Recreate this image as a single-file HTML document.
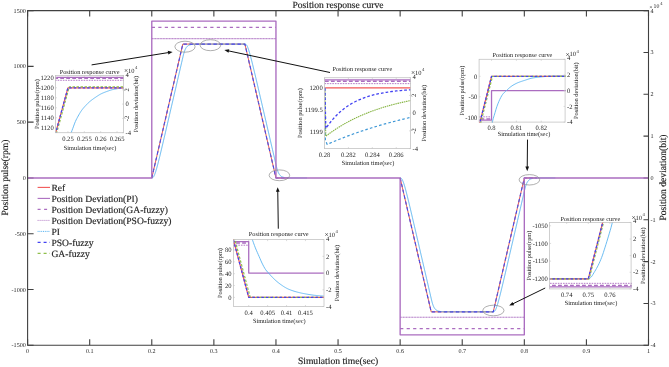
<!DOCTYPE html><html><head><meta charset="utf-8"><style>html,body{margin:0;padding:0;background:#fff}svg{display:block;will-change:transform;text-rendering:geometricPrecision}.b text{stroke:#222;stroke-width:0.15px}</style></head><body>
<svg width="669" height="367" viewBox="0 0 669 367">
<rect width="669" height="367" fill="#fff"/>
<path d="M27.6 345.3 v-6 M27.6 10.6 v6 M89.69 345.3 v-6 M89.69 10.6 v6 M151.78 345.3 v-6 M151.78 10.6 v6 M213.87 345.3 v-6 M213.87 10.6 v6 M275.96 345.3 v-6 M275.96 10.6 v6 M338.05 345.3 v-6 M338.05 10.6 v6 M400.14 345.3 v-6 M400.14 10.6 v6 M462.23 345.3 v-6 M462.23 10.6 v6 M524.32 345.3 v-6 M524.32 10.6 v6 M586.41 345.3 v-6 M586.41 10.6 v6 M648.5 345.3 v-6 M648.5 10.6 v6 M27.6 345.3 h6 M27.6 289.52 h6 M27.6 233.73 h6 M27.6 177.95 h6 M27.6 122.17 h6 M27.6 66.38 h6 M27.6 10.6 h6 M648.5 345.3 h-5 M648.5 303.46 h-5 M648.5 261.62 h-5 M648.5 219.79 h-5 M648.5 177.95 h-5 M648.5 136.11 h-5 M648.5 94.28 h-5 M648.5 52.44 h-5 M648.5 10.6 h-5" stroke="#404040" stroke-width="1.1" fill="none"/>
<path d="M151.78 177.95 L182.82 44.07 L244.91 44.07 L275.96 177.95 L288.38 177.95" fill="none" stroke="#f25757" stroke-width="1.0" stroke-linejoin="round" />
<path d="M400.14 177.95 L431.19 311.83 L493.27 311.83 L524.32 177.95 L536.74 177.95" fill="none" stroke="#f25757" stroke-width="1.0" stroke-linejoin="round" />
<path d="M151.78 177.95 L151.95 177.95 L152.13 177.93 L152.3 177.9 L152.47 177.85 L152.64 177.76 L152.82 177.64 L152.99 177.49 L153.16 177.31 L153.33 177.1 L153.51 176.86 L153.68 176.58 L153.85 176.28 L154.02 175.95 L154.2 175.59 L154.37 175.21 L154.54 174.8 L154.72 174.37 L154.89 173.92 L155.06 173.45 L155.23 172.96 L155.41 172.46 L155.58 171.94 L155.75 171.4 L155.92 170.85 L156.1 170.28 L156.27 169.71 L156.44 169.12 L156.61 168.52 L156.79 167.91 L156.96 167.29 L157.13 166.67 L157.31 166.03 L157.48 165.39 L157.65 164.74 L157.82 164.08 L158 163.42 L158.17 162.75 L158.34 162.08 L158.51 161.4 L158.69 160.72 L158.86 160.03 L159.03 159.34 L159.2 158.65 L159.38 157.95 L159.55 157.25 L159.72 156.54 L159.9 155.83 L160.07 155.13 L160.24 154.41 L160.41 153.7 L160.59 152.98 L160.76 152.26 L160.93 151.54 L161.1 150.82 L161.28 150.1 L161.45 149.37 L161.62 148.65 L161.79 147.92 L161.97 147.19 L162.14 146.46 L162.31 145.73 L162.49 145 L162.66 144.27 L162.83 143.53 L163 142.8 L163.18 142.06 L163.35 141.33 L163.52 140.59 L163.69 139.86 L163.87 139.12 L164.04 138.38 L164.21 137.64 L164.38 136.9 L164.56 136.16 L164.73 135.42 L164.9 134.68 L165.08 133.94 L165.25 133.2 L165.42 132.46 L165.59 131.72 L165.77 130.98 L165.94 130.24 L166.11 129.5 L166.28 128.76 L166.46 128.01 L166.63 127.27 L166.8 126.53 L166.97 125.79 L167.15 125.04 L167.32 124.3 L167.49 123.56 L167.67 122.81 L167.84 122.07 L168.01 121.33 L168.18 120.58 L168.36 119.84 L168.53 119.1 L168.7 118.35 L168.87 117.61 L169.05 116.87 L169.22 116.12 L169.39 115.38 L169.56 114.63 L169.74 113.89 L169.91 113.15 L170.08 112.4 L170.26 111.66 L170.43 110.91 L170.6 110.17 L170.77 109.43 L170.95 108.68 L171.12 107.94 L171.29 107.19 L171.46 106.45 L171.64 105.7 L171.81 104.96 L171.98 104.22 L172.15 103.47 L172.33 102.73 L172.5 101.98 L172.67 101.24 L172.85 100.49 L173.02 99.75 L173.19 99 L173.36 98.26 L173.54 97.52 L173.71 96.77 L173.88 96.03 L174.05 95.28 L174.23 94.54 L174.4 93.79 L174.57 93.05 L174.74 92.3 L174.92 91.56 L175.09 90.82 L175.26 90.07 L175.43 89.33 L175.61 88.58 L175.78 87.84 L175.95 87.09 L176.13 86.35 L176.3 85.6 L176.47 84.86 L176.64 84.11 L176.82 83.37 L176.99 82.63 L177.16 81.88 L177.33 81.14 L177.51 80.39 L177.68 79.65 L177.85 78.9 L178.02 78.16 L178.2 77.41 L178.37 76.67 L178.54 75.92 L178.72 75.18 L178.89 74.43 L179.06 73.69 L179.23 72.95 L179.41 72.2 L179.58 71.46 L179.75 70.71 L179.92 69.97 L180.1 69.22 L180.27 68.48 L180.44 67.73 L180.61 66.99 L180.79 66.24 L180.96 65.5 L181.13 64.76 L181.31 64.01 L181.48 63.27 L181.65 62.52 L181.82 61.78 L182 61.03 L182.17 60.29 L182.34 59.54 L182.51 58.8 L182.69 58.05 L182.86 57.31 L183.03 56.57 L183.2 55.84 L183.38 55.13 L183.55 54.45 L183.72 53.8 L183.9 53.18 L184.07 52.59 L184.24 52.03 L184.41 51.5 L184.59 51.01 L184.76 50.54 L184.93 50.11 L185.1 49.7 L185.28 49.32 L185.45 48.96 L185.62 48.63 L185.79 48.32 L185.97 48.03 L186.14 47.75 L186.31 47.5 L186.49 47.27 L186.66 47.05 L186.83 46.84 L187 46.65 L187.18 46.47 L187.35 46.31 L187.52 46.15 L187.69 46.01 L187.87 45.88 L188.04 45.75 L188.21 45.64 L188.38 45.53 L188.56 45.43 L188.73 45.33 L188.9 45.25 L189.08 45.17 L189.25 45.09 L189.42 45.02 L189.59 44.95 L189.77 44.89 L189.94 44.84 L190.11 44.78 L190.28 44.73 L190.46 44.69 L190.63 44.65 L190.8 44.61 L190.97 44.57 L191.15 44.53 L191.32 44.5 L191.49 44.47 L191.67 44.45 L191.84 44.42 L192.01 44.4 L192.18 44.37 L192.36 44.35 L192.53 44.33 L192.7 44.31 L192.87 44.3 L193.05 44.28 L193.22 44.27 L193.39 44.25 L193.56 44.24 L193.74 44.23 L193.91 44.22 L194.08 44.21 L194.26 44.2 L194.43 44.19 L194.6 44.18 L194.77 44.17 L194.95 44.17 L195.12 44.16 L195.29 44.15 L195.46 44.15 L195.64 44.14 L195.81 44.14 L195.98 44.13 L196.15 44.13 L196.33 44.12 L196.5 44.12 L196.67 44.12 L196.85 44.11 L197.02 44.11 L197.19 44.11 L197.36 44.11 L197.54 44.1 L197.71 44.1 L197.88 44.1 L198.05 44.1 L198.23 44.09 L198.4 44.09 L198.57 44.09 L198.74 44.09 L198.92 44.09 L199.09 44.09 L199.26 44.09 L199.44 44.09 L199.61 44.08 L199.78 44.08 L199.95 44.08 L200.13 44.08 L200.3 44.08 L200.47 44.08 L200.64 44.08 L200.82 44.08 L200.99 44.08 L201.16 44.08 L201.33 44.08 L201.51 44.08 L201.68 44.08 L201.85 44.08 L202.03 44.08 L202.2 44.07 L202.37 44.07 L202.54 44.07 L202.72 44.07 L202.89 44.07 L203.06 44.07 L203.23 44.07 L203.41 44.07 L203.58 44.07 L203.75 44.07 L203.92 44.07 L204.1 44.07 L204.27 44.07 L204.44 44.07 L204.62 44.07 L204.79 44.07 L204.96 44.07 L205.13 44.07 L205.31 44.07 L205.48 44.07 L205.65 44.07 L205.82 44.07 L206 44.07 L206.17 44.07 L206.34 44.07 L206.51 44.07 L206.69 44.07 L206.86 44.07 L207.03 44.07 L207.21 44.07 L207.38 44.07 L207.55 44.07 L207.72 44.07 L207.9 44.07 L208.07 44.07 L208.24 44.07 L208.41 44.07 L208.59 44.07 L208.76 44.07 L208.93 44.07 L209.1 44.07 L209.28 44.07 L209.45 44.07 L209.62 44.07 L209.8 44.07 L209.97 44.07 L210.14 44.07 L210.31 44.07 L210.49 44.07 L210.66 44.07 L210.83 44.07 L211 44.07 L211.18 44.07 L211.35 44.07 L211.52 44.07 L211.69 44.07 L211.87 44.07 L212.04 44.07 L212.21 44.07 L212.39 44.07 L212.56 44.07 L212.73 44.07 L212.9 44.07 L213.08 44.07 L213.25 44.07 L213.42 44.07 L213.59 44.07 L213.77 44.07 L213.94 44.07 L214.11 44.07 L214.28 44.07 L214.46 44.07 L214.63 44.07 L214.8 44.07 L214.98 44.07 L215.15 44.07 L215.32 44.07 L215.49 44.07 L215.67 44.07 L215.84 44.07 L216.01 44.07 L216.18 44.07 L216.36 44.07 L216.53 44.07 L216.7 44.07 L216.87 44.07 L217.05 44.07 L217.22 44.07 L217.39 44.07 L217.57 44.07 L217.74 44.07 L217.91 44.07 L218.08 44.07 L218.26 44.07 L218.43 44.07 L218.6 44.07 L218.77 44.07 L218.95 44.07 L219.12 44.07 L219.29 44.07 L219.46 44.07 L219.64 44.07 L219.81 44.07 L219.98 44.07 L220.15 44.07 L220.33 44.07 L220.5 44.07 L220.67 44.07 L220.85 44.07 L221.02 44.07 L221.19 44.07 L221.36 44.07 L221.54 44.07 L221.71 44.07 L221.88 44.07 L222.05 44.07 L222.23 44.07 L222.4 44.07 L222.57 44.07 L222.74 44.07 L222.92 44.07 L223.09 44.07 L223.26 44.07 L223.44 44.07 L223.61 44.07 L223.78 44.07 L223.95 44.07 L224.13 44.07 L224.3 44.07 L224.47 44.07 L224.64 44.07 L224.82 44.07 L224.99 44.07 L225.16 44.07 L225.33 44.07 L225.51 44.07 L225.68 44.07 L225.85 44.07 L226.03 44.07 L226.2 44.07 L226.37 44.07 L226.54 44.07 L226.72 44.07 L226.89 44.07 L227.06 44.07 L227.23 44.07 L227.41 44.07 L227.58 44.07 L227.75 44.07 L227.92 44.07 L228.1 44.07 L228.27 44.07 L228.44 44.07 L228.62 44.07 L228.79 44.07 L228.96 44.07 L229.13 44.07 L229.31 44.07 L229.48 44.07 L229.65 44.07 L229.82 44.07 L230 44.07 L230.17 44.07 L230.34 44.07 L230.51 44.07 L230.69 44.07 L230.86 44.07 L231.03 44.07 L231.21 44.07 L231.38 44.07 L231.55 44.07 L231.72 44.07 L231.9 44.07 L232.07 44.07 L232.24 44.07 L232.41 44.07 L232.59 44.07 L232.76 44.07 L232.93 44.07 L233.1 44.07 L233.28 44.07 L233.45 44.07 L233.62 44.07 L233.8 44.07 L233.97 44.07 L234.14 44.07 L234.31 44.07 L234.49 44.07 L234.66 44.07 L234.83 44.07 L235 44.07 L235.18 44.07 L235.35 44.07 L235.52 44.07 L235.69 44.07 L235.87 44.07 L236.04 44.07 L236.21 44.07 L236.39 44.07 L236.56 44.07 L236.73 44.07 L236.9 44.07 L237.08 44.07 L237.25 44.07 L237.42 44.07 L237.59 44.07 L237.77 44.07 L237.94 44.07 L238.11 44.07 L238.28 44.07 L238.46 44.07 L238.63 44.07 L238.8 44.07 L238.98 44.07 L239.15 44.07 L239.32 44.07 L239.49 44.07 L239.67 44.07 L239.84 44.07 L240.01 44.07 L240.18 44.07 L240.36 44.07 L240.53 44.07 L240.7 44.07 L240.87 44.07 L241.05 44.07 L241.22 44.07 L241.39 44.07 L241.57 44.07 L241.74 44.07 L241.91 44.07 L242.08 44.07 L242.26 44.07 L242.43 44.07 L242.6 44.07 L242.77 44.07 L242.95 44.07 L243.12 44.07 L243.29 44.07 L243.46 44.07 L243.64 44.07 L243.81 44.07 L243.98 44.07 L244.16 44.07 L244.33 44.07 L244.5 44.07 L244.67 44.07 L244.85 44.07 L245.02 44.07 L245.19 44.08 L245.36 44.1 L245.54 44.15 L245.71 44.22 L245.88 44.33 L246.05 44.46 L246.23 44.63 L246.4 44.83 L246.57 45.06 L246.75 45.32 L246.92 45.61 L247.09 45.94 L247.26 46.28 L247.44 46.66 L247.61 47.05 L247.78 47.47 L247.95 47.91 L248.13 48.38 L248.3 48.86 L248.47 49.36 L248.64 49.87 L248.82 50.4 L248.99 50.95 L249.16 51.51 L249.34 52.08 L249.51 52.66 L249.68 53.26 L249.85 53.86 L250.03 54.48 L250.2 55.1 L250.37 55.73 L250.54 56.37 L250.72 57.02 L250.89 57.67 L251.06 58.33 L251.23 59 L251.41 59.67 L251.58 60.35 L251.75 61.03 L251.93 61.71 L252.1 62.4 L252.27 63.1 L252.44 63.79 L252.62 64.49 L252.79 65.2 L252.96 65.9 L253.13 66.61 L253.31 67.32 L253.48 68.04 L253.65 68.75 L253.82 69.47 L254 70.19 L254.17 70.91 L254.34 71.63 L254.52 72.36 L254.69 73.08 L254.86 73.81 L255.03 74.54 L255.21 75.27 L255.38 76 L255.55 76.73 L255.72 77.46 L255.9 78.19 L256.07 78.93 L256.24 79.66 L256.41 80.4 L256.59 81.13 L256.76 81.87 L256.93 82.61 L257.11 83.34 L257.28 84.08 L257.45 84.82 L257.62 85.56 L257.8 86.3 L257.97 87.04 L258.14 87.78 L258.31 88.52 L258.49 89.26 L258.66 90 L258.83 90.74 L259 91.48 L259.18 92.23 L259.35 92.97 L259.52 93.71 L259.7 94.45 L259.87 95.19 L260.04 95.94 L260.21 96.68 L260.39 97.42 L260.56 98.17 L260.73 98.91 L260.9 99.65 L261.08 100.4 L261.25 101.14 L261.42 101.88 L261.59 102.63 L261.77 103.37 L261.94 104.11 L262.11 104.86 L262.29 105.6 L262.46 106.34 L262.63 107.09 L262.8 107.83 L262.98 108.58 L263.15 109.32 L263.32 110.06 L263.49 110.81 L263.67 111.55 L263.84 112.3 L264.01 113.04 L264.18 113.78 L264.36 114.53 L264.53 115.27 L264.7 116.02 L264.87 116.76 L265.05 117.51 L265.22 118.25 L265.39 119 L265.57 119.74 L265.74 120.48 L265.91 121.23 L266.08 121.97 L266.26 122.72 L266.43 123.46 L266.6 124.21 L266.77 124.95 L266.95 125.7 L267.12 126.44 L267.29 127.18 L267.46 127.93 L267.64 128.67 L267.81 129.42 L267.98 130.16 L268.16 130.91 L268.33 131.65 L268.5 132.4 L268.67 133.14 L268.85 133.88 L269.02 134.63 L269.19 135.37 L269.36 136.12 L269.54 136.86 L269.71 137.61 L269.88 138.35 L270.05 139.1 L270.23 139.84 L270.4 140.59 L270.57 141.33 L270.75 142.08 L270.92 142.82 L271.09 143.56 L271.26 144.31 L271.44 145.05 L271.61 145.8 L271.78 146.54 L271.95 147.29 L272.13 148.03 L272.3 148.78 L272.47 149.52 L272.64 150.27 L272.82 151.01 L272.99 151.75 L273.16 152.5 L273.34 153.24 L273.51 153.99 L273.68 154.73 L273.85 155.48 L274.03 156.22 L274.2 156.97 L274.37 157.71 L274.54 158.46 L274.72 159.2 L274.89 159.95 L275.06 160.69 L275.23 161.43 L275.41 162.18 L275.58 162.92 L275.75 163.67 L275.93 164.41 L276.1 165.16 L276.27 165.89 L276.44 166.61 L276.62 167.3 L276.79 167.97 L276.96 168.6 L277.13 169.2 L277.31 169.77 L277.48 170.31 L277.65 170.82 L277.82 171.29 L278 171.74 L278.17 172.16 L278.34 172.55 L278.52 172.92 L278.69 173.26 L278.86 173.58 L279.03 173.88 L279.21 174.16 L279.38 174.42 L279.55 174.66 L279.72 174.89 L279.9 175.1 L280.07 175.29 L280.24 175.48 L280.41 175.65 L280.59 175.81 L280.76 175.95 L280.93 176.09 L281.11 176.22 L281.28 176.34 L281.45 176.45 L281.62 176.55 L281.8 176.65 L281.97 176.74 L282.14 176.82 L282.31 176.9 L282.49 176.97 L282.66 177.04 L282.83 177.1 L283 177.16 L283.18 177.22 L283.35 177.27 L283.52 177.31 L283.7 177.36 L283.87 177.4 L284.04 177.44 L284.21 177.47 L284.39 177.5 L284.56 177.54 L284.73 177.56 L284.9 177.59 L285.08 177.62 L285.25 177.64 L285.42 177.66 L285.59 177.68 L285.77 177.7 L285.94 177.72 L286.11 177.73 L286.29 177.75 L286.46 177.76 L286.63 177.77 L286.8 177.79 L286.98 177.8 L287.15 177.81 L287.32 177.82 L287.49 177.83 L287.67 177.84 L287.84 177.84 L288.01 177.85 L288.18 177.86 L288.36 177.86 L288.53 177.87 L288.7 177.88 L288.88 177.88 L289.05 177.89 L289.22 177.89 L289.39 177.89 L289.57 177.9 L289.74 177.9 L289.91 177.9 L290.08 177.91 L290.26 177.91 L290.43 177.91 L290.6 177.92 L290.77 177.92 L290.95 177.92 L291.12 177.92 L291.29 177.92 L291.47 177.93 L291.64 177.93 L291.81 177.93 L291.98 177.93 L292.16 177.93 L292.33 177.93 L292.5 177.93 L292.67 177.94 L292.85 177.94 L293.02 177.94 L293.19 177.94 L293.36 177.94 L293.54 177.94 L293.71 177.94 L293.88 177.94 L294.06 177.94 L294.23 177.94 L294.4 177.94 L294.57 177.94 L294.75 177.94 L294.92 177.94 L295.09 177.94 L295.26 177.95 L295.44 177.95 L295.61 177.95 L295.78 177.95 L295.95 177.95 L296.13 177.95 L296.3 177.95 L296.47 177.95 L296.65 177.95 L296.82 177.95 L296.99 177.95 L297.16 177.95 L297.34 177.95 L297.51 177.95 L297.68 177.95 L297.85 177.95 L298.03 177.95 L298.2 177.95 L298.37 177.95 L298.54 177.95 L298.72 177.95 L298.89 177.95 L299.06 177.95 L299.24 177.95 L299.41 177.95 L299.58 177.95 L299.75 177.95 L299.93 177.95 L300.1 177.95 L300.27 177.95 L300.44 177.95 L300.62 177.95 L300.79 177.95 L300.96 177.95 L301.13 177.95 L301.31 177.95 L301.48 177.95 L301.65 177.95 L301.83 177.95 L302 177.95 L302.17 177.95 L302.34 177.95 L302.52 177.95 L302.69 177.95 L302.86 177.95 L303.03 177.95 L303.21 177.95 L303.38 177.95 L303.55 177.95 L303.72 177.95 L303.9 177.95 L304.07 177.95 L304.24 177.95 L304.42 177.95 L304.59 177.95 L304.76 177.95 L304.93 177.95 L305.11 177.95 L305.28 177.95 L305.45 177.95 L305.62 177.95 L305.8 177.95 L305.97 177.95 L306.14 177.95 L306.31 177.95 L306.49 177.95 L306.66 177.95 L306.83 177.95 L307 177.95" fill="none" stroke="#5ab4f0" stroke-width="1" stroke-linejoin="round" />
<path d="M400.14 177.95 L400.31 177.95 L400.49 177.97 L400.66 178 L400.83 178.05 L401 178.14 L401.18 178.26 L401.35 178.41 L401.52 178.59 L401.69 178.8 L401.87 179.04 L402.04 179.32 L402.21 179.62 L402.38 179.95 L402.56 180.31 L402.73 180.69 L402.9 181.1 L403.08 181.53 L403.25 181.98 L403.42 182.45 L403.59 182.94 L403.77 183.44 L403.94 183.96 L404.11 184.5 L404.28 185.05 L404.46 185.62 L404.63 186.19 L404.8 186.78 L404.97 187.38 L405.15 187.99 L405.32 188.61 L405.49 189.23 L405.67 189.87 L405.84 190.51 L406.01 191.16 L406.18 191.82 L406.36 192.48 L406.53 193.15 L406.7 193.82 L406.87 194.5 L407.05 195.18 L407.22 195.87 L407.39 196.56 L407.56 197.25 L407.74 197.95 L407.91 198.65 L408.08 199.36 L408.26 200.07 L408.43 200.77 L408.6 201.49 L408.77 202.2 L408.95 202.92 L409.12 203.64 L409.29 204.36 L409.46 205.08 L409.64 205.8 L409.81 206.53 L409.98 207.25 L410.15 207.98 L410.33 208.71 L410.5 209.44 L410.67 210.17 L410.85 210.9 L411.02 211.63 L411.19 212.37 L411.36 213.1 L411.54 213.84 L411.71 214.57 L411.88 215.31 L412.05 216.04 L412.23 216.78 L412.4 217.52 L412.57 218.26 L412.74 219 L412.92 219.74 L413.09 220.48 L413.26 221.22 L413.44 221.96 L413.61 222.7 L413.78 223.44 L413.95 224.18 L414.13 224.92 L414.3 225.66 L414.47 226.4 L414.64 227.14 L414.82 227.89 L414.99 228.63 L415.16 229.37 L415.33 230.11 L415.51 230.86 L415.68 231.6 L415.85 232.34 L416.03 233.09 L416.2 233.83 L416.37 234.57 L416.54 235.32 L416.72 236.06 L416.89 236.8 L417.06 237.55 L417.23 238.29 L417.41 239.03 L417.58 239.78 L417.75 240.52 L417.92 241.27 L418.1 242.01 L418.27 242.75 L418.44 243.5 L418.62 244.24 L418.79 244.99 L418.96 245.73 L419.13 246.47 L419.31 247.22 L419.48 247.96 L419.65 248.71 L419.82 249.45 L420 250.2 L420.17 250.94 L420.34 251.68 L420.51 252.43 L420.69 253.17 L420.86 253.92 L421.03 254.66 L421.21 255.41 L421.38 256.15 L421.55 256.9 L421.72 257.64 L421.9 258.38 L422.07 259.13 L422.24 259.87 L422.41 260.62 L422.59 261.36 L422.76 262.11 L422.93 262.85 L423.1 263.6 L423.28 264.34 L423.45 265.08 L423.62 265.83 L423.79 266.57 L423.97 267.32 L424.14 268.06 L424.31 268.81 L424.49 269.55 L424.66 270.3 L424.83 271.04 L425 271.79 L425.18 272.53 L425.35 273.27 L425.52 274.02 L425.69 274.76 L425.87 275.51 L426.04 276.25 L426.21 277 L426.38 277.74 L426.56 278.49 L426.73 279.23 L426.9 279.98 L427.08 280.72 L427.25 281.47 L427.42 282.21 L427.59 282.95 L427.77 283.7 L427.94 284.44 L428.11 285.19 L428.28 285.93 L428.46 286.68 L428.63 287.42 L428.8 288.17 L428.97 288.91 L429.15 289.66 L429.32 290.4 L429.49 291.14 L429.67 291.89 L429.84 292.63 L430.01 293.38 L430.18 294.12 L430.36 294.87 L430.53 295.61 L430.7 296.36 L430.87 297.1 L431.05 297.85 L431.22 298.59 L431.39 299.33 L431.56 300.06 L431.74 300.77 L431.91 301.45 L432.08 302.1 L432.26 302.72 L432.43 303.31 L432.6 303.87 L432.77 304.4 L432.95 304.89 L433.12 305.36 L433.29 305.79 L433.46 306.2 L433.64 306.58 L433.81 306.94 L433.98 307.27 L434.15 307.58 L434.33 307.87 L434.5 308.15 L434.67 308.4 L434.85 308.63 L435.02 308.85 L435.19 309.06 L435.36 309.25 L435.54 309.43 L435.71 309.59 L435.88 309.75 L436.05 309.89 L436.23 310.02 L436.4 310.15 L436.57 310.26 L436.74 310.37 L436.92 310.47 L437.09 310.57 L437.26 310.65 L437.44 310.73 L437.61 310.81 L437.78 310.88 L437.95 310.95 L438.13 311.01 L438.3 311.06 L438.47 311.12 L438.64 311.17 L438.82 311.21 L438.99 311.25 L439.16 311.29 L439.33 311.33 L439.51 311.37 L439.68 311.4 L439.85 311.43 L440.03 311.45 L440.2 311.48 L440.37 311.5 L440.54 311.53 L440.72 311.55 L440.89 311.57 L441.06 311.59 L441.23 311.6 L441.41 311.62 L441.58 311.63 L441.75 311.65 L441.92 311.66 L442.1 311.67 L442.27 311.68 L442.44 311.69 L442.62 311.7 L442.79 311.71 L442.96 311.72 L443.13 311.73 L443.31 311.73 L443.48 311.74 L443.65 311.75 L443.82 311.75 L444 311.76 L444.17 311.76 L444.34 311.77 L444.51 311.77 L444.69 311.78 L444.86 311.78 L445.03 311.78 L445.21 311.79 L445.38 311.79 L445.55 311.79 L445.72 311.79 L445.9 311.8 L446.07 311.8 L446.24 311.8 L446.41 311.8 L446.59 311.81 L446.76 311.81 L446.93 311.81 L447.1 311.81 L447.28 311.81 L447.45 311.81 L447.62 311.81 L447.8 311.81 L447.97 311.82 L448.14 311.82 L448.31 311.82 L448.49 311.82 L448.66 311.82 L448.83 311.82 L449 311.82 L449.18 311.82 L449.35 311.82 L449.52 311.82 L449.69 311.82 L449.87 311.82 L450.04 311.82 L450.21 311.82 L450.39 311.82 L450.56 311.83 L450.73 311.83 L450.9 311.83 L451.08 311.83 L451.25 311.83 L451.42 311.83 L451.59 311.83 L451.77 311.83 L451.94 311.83 L452.11 311.83 L452.28 311.83 L452.46 311.83 L452.63 311.83 L452.8 311.83 L452.98 311.83 L453.15 311.83 L453.32 311.83 L453.49 311.83 L453.67 311.83 L453.84 311.83 L454.01 311.83 L454.18 311.83 L454.36 311.83 L454.53 311.83 L454.7 311.83 L454.87 311.83 L455.05 311.83 L455.22 311.83 L455.39 311.83 L455.57 311.83 L455.74 311.83 L455.91 311.83 L456.08 311.83 L456.26 311.83 L456.43 311.83 L456.6 311.83 L456.77 311.83 L456.95 311.83 L457.12 311.83 L457.29 311.83 L457.46 311.83 L457.64 311.83 L457.81 311.83 L457.98 311.83 L458.16 311.83 L458.33 311.83 L458.5 311.83 L458.67 311.83 L458.85 311.83 L459.02 311.83 L459.19 311.83 L459.36 311.83 L459.54 311.83 L459.71 311.83 L459.88 311.83 L460.05 311.83 L460.23 311.83 L460.4 311.83 L460.57 311.83 L460.75 311.83 L460.92 311.83 L461.09 311.83 L461.26 311.83 L461.44 311.83 L461.61 311.83 L461.78 311.83 L461.95 311.83 L462.13 311.83 L462.3 311.83 L462.47 311.83 L462.64 311.83 L462.82 311.83 L462.99 311.83 L463.16 311.83 L463.34 311.83 L463.51 311.83 L463.68 311.83 L463.85 311.83 L464.03 311.83 L464.2 311.83 L464.37 311.83 L464.54 311.83 L464.72 311.83 L464.89 311.83 L465.06 311.83 L465.23 311.83 L465.41 311.83 L465.58 311.83 L465.75 311.83 L465.93 311.83 L466.1 311.83 L466.27 311.83 L466.44 311.83 L466.62 311.83 L466.79 311.83 L466.96 311.83 L467.13 311.83 L467.31 311.83 L467.48 311.83 L467.65 311.83 L467.82 311.83 L468 311.83 L468.17 311.83 L468.34 311.83 L468.51 311.83 L468.69 311.83 L468.86 311.83 L469.03 311.83 L469.21 311.83 L469.38 311.83 L469.55 311.83 L469.72 311.83 L469.9 311.83 L470.07 311.83 L470.24 311.83 L470.41 311.83 L470.59 311.83 L470.76 311.83 L470.93 311.83 L471.1 311.83 L471.28 311.83 L471.45 311.83 L471.62 311.83 L471.8 311.83 L471.97 311.83 L472.14 311.83 L472.31 311.83 L472.49 311.83 L472.66 311.83 L472.83 311.83 L473 311.83 L473.18 311.83 L473.35 311.83 L473.52 311.83 L473.69 311.83 L473.87 311.83 L474.04 311.83 L474.21 311.83 L474.39 311.83 L474.56 311.83 L474.73 311.83 L474.9 311.83 L475.08 311.83 L475.25 311.83 L475.42 311.83 L475.59 311.83 L475.77 311.83 L475.94 311.83 L476.11 311.83 L476.28 311.83 L476.46 311.83 L476.63 311.83 L476.8 311.83 L476.98 311.83 L477.15 311.83 L477.32 311.83 L477.49 311.83 L477.67 311.83 L477.84 311.83 L478.01 311.83 L478.18 311.83 L478.36 311.83 L478.53 311.83 L478.7 311.83 L478.87 311.83 L479.05 311.83 L479.22 311.83 L479.39 311.83 L479.57 311.83 L479.74 311.83 L479.91 311.83 L480.08 311.83 L480.26 311.83 L480.43 311.83 L480.6 311.83 L480.77 311.83 L480.95 311.83 L481.12 311.83 L481.29 311.83 L481.46 311.83 L481.64 311.83 L481.81 311.83 L481.98 311.83 L482.16 311.83 L482.33 311.83 L482.5 311.83 L482.67 311.83 L482.85 311.83 L483.02 311.83 L483.19 311.83 L483.36 311.83 L483.54 311.83 L483.71 311.83 L483.88 311.83 L484.05 311.83 L484.23 311.83 L484.4 311.83 L484.57 311.83 L484.75 311.83 L484.92 311.83 L485.09 311.83 L485.26 311.83 L485.44 311.83 L485.61 311.83 L485.78 311.83 L485.95 311.83 L486.13 311.83 L486.3 311.83 L486.47 311.83 L486.64 311.83 L486.82 311.83 L486.99 311.83 L487.16 311.83 L487.34 311.83 L487.51 311.83 L487.68 311.83 L487.85 311.83 L488.03 311.83 L488.2 311.83 L488.37 311.83 L488.54 311.83 L488.72 311.83 L488.89 311.83 L489.06 311.83 L489.23 311.83 L489.41 311.83 L489.58 311.83 L489.75 311.83 L489.93 311.83 L490.1 311.83 L490.27 311.83 L490.44 311.83 L490.62 311.83 L490.79 311.83 L490.96 311.83 L491.13 311.83 L491.31 311.83 L491.48 311.83 L491.65 311.83 L491.82 311.83 L492 311.83 L492.17 311.83 L492.34 311.83 L492.52 311.83 L492.69 311.83 L492.86 311.83 L493.03 311.83 L493.21 311.83 L493.38 311.83 L493.55 311.82 L493.72 311.8 L493.9 311.75 L494.07 311.68 L494.24 311.57 L494.41 311.44 L494.59 311.27 L494.76 311.07 L494.93 310.84 L495.11 310.58 L495.28 310.29 L495.45 309.96 L495.62 309.62 L495.8 309.24 L495.97 308.85 L496.14 308.43 L496.31 307.99 L496.49 307.52 L496.66 307.04 L496.83 306.54 L497 306.03 L497.18 305.5 L497.35 304.95 L497.52 304.39 L497.7 303.82 L497.87 303.24 L498.04 302.64 L498.21 302.04 L498.39 301.42 L498.56 300.8 L498.73 300.17 L498.9 299.53 L499.08 298.88 L499.25 298.23 L499.42 297.57 L499.59 296.9 L499.77 296.23 L499.94 295.55 L500.11 294.87 L500.29 294.19 L500.46 293.5 L500.63 292.8 L500.8 292.11 L500.98 291.41 L501.15 290.7 L501.32 290 L501.49 289.29 L501.67 288.58 L501.84 287.86 L502.01 287.15 L502.18 286.43 L502.36 285.71 L502.53 284.99 L502.7 284.27 L502.88 283.54 L503.05 282.82 L503.22 282.09 L503.39 281.36 L503.57 280.63 L503.74 279.9 L503.91 279.17 L504.08 278.44 L504.26 277.71 L504.43 276.97 L504.6 276.24 L504.77 275.5 L504.95 274.77 L505.12 274.03 L505.29 273.29 L505.47 272.56 L505.64 271.82 L505.81 271.08 L505.98 270.34 L506.16 269.6 L506.33 268.86 L506.5 268.12 L506.67 267.38 L506.85 266.64 L507.02 265.9 L507.19 265.16 L507.36 264.42 L507.54 263.67 L507.71 262.93 L507.88 262.19 L508.06 261.45 L508.23 260.71 L508.4 259.96 L508.57 259.22 L508.75 258.48 L508.92 257.73 L509.09 256.99 L509.26 256.25 L509.44 255.5 L509.61 254.76 L509.78 254.02 L509.95 253.27 L510.13 252.53 L510.3 251.79 L510.47 251.04 L510.65 250.3 L510.82 249.56 L510.99 248.81 L511.16 248.07 L511.34 247.32 L511.51 246.58 L511.68 245.84 L511.85 245.09 L512.03 244.35 L512.2 243.6 L512.37 242.86 L512.54 242.12 L512.72 241.37 L512.89 240.63 L513.06 239.88 L513.23 239.14 L513.41 238.39 L513.58 237.65 L513.75 236.9 L513.93 236.16 L514.1 235.42 L514.27 234.67 L514.44 233.93 L514.62 233.18 L514.79 232.44 L514.96 231.69 L515.13 230.95 L515.31 230.2 L515.48 229.46 L515.65 228.72 L515.82 227.97 L516 227.23 L516.17 226.48 L516.34 225.74 L516.52 224.99 L516.69 224.25 L516.86 223.5 L517.03 222.76 L517.21 222.02 L517.38 221.27 L517.55 220.53 L517.72 219.78 L517.9 219.04 L518.07 218.29 L518.24 217.55 L518.41 216.8 L518.59 216.06 L518.76 215.31 L518.93 214.57 L519.11 213.82 L519.28 213.08 L519.45 212.34 L519.62 211.59 L519.8 210.85 L519.97 210.1 L520.14 209.36 L520.31 208.61 L520.49 207.87 L520.66 207.12 L520.83 206.38 L521 205.63 L521.18 204.89 L521.35 204.15 L521.52 203.4 L521.7 202.66 L521.87 201.91 L522.04 201.17 L522.21 200.42 L522.39 199.68 L522.56 198.93 L522.73 198.19 L522.9 197.44 L523.08 196.7 L523.25 195.95 L523.42 195.21 L523.59 194.47 L523.77 193.72 L523.94 192.98 L524.11 192.23 L524.29 191.49 L524.46 190.74 L524.63 190.01 L524.8 189.29 L524.98 188.6 L525.15 187.93 L525.32 187.3 L525.49 186.7 L525.67 186.13 L525.84 185.59 L526.01 185.08 L526.18 184.61 L526.36 184.16 L526.53 183.74 L526.7 183.35 L526.88 182.98 L527.05 182.64 L527.22 182.32 L527.39 182.02 L527.57 181.74 L527.74 181.48 L527.91 181.24 L528.08 181.01 L528.26 180.8 L528.43 180.61 L528.6 180.42 L528.77 180.25 L528.95 180.09 L529.12 179.95 L529.29 179.81 L529.47 179.68 L529.64 179.56 L529.81 179.45 L529.98 179.35 L530.16 179.25 L530.33 179.16 L530.5 179.08 L530.67 179 L530.85 178.93 L531.02 178.86 L531.19 178.8 L531.36 178.74 L531.54 178.68 L531.71 178.63 L531.88 178.59 L532.06 178.54 L532.23 178.5 L532.4 178.46 L532.57 178.43 L532.75 178.4 L532.92 178.36 L533.09 178.34 L533.26 178.31 L533.44 178.28 L533.61 178.26 L533.78 178.24 L533.95 178.22 L534.13 178.2 L534.3 178.18 L534.47 178.17 L534.65 178.15 L534.82 178.14 L534.99 178.13 L535.16 178.11 L535.34 178.1 L535.51 178.09 L535.68 178.08 L535.85 178.07 L536.03 178.06 L536.2 178.06 L536.37 178.05 L536.54 178.04 L536.72 178.04 L536.89 178.03 L537.06 178.02 L537.24 178.02 L537.41 178.01 L537.58 178.01 L537.75 178.01 L537.93 178 L538.1 178 L538.27 178 L538.44 177.99 L538.62 177.99 L538.79 177.99 L538.96 177.98 L539.13 177.98 L539.31 177.98 L539.48 177.98 L539.65 177.98 L539.83 177.97 L540 177.97 L540.17 177.97 L540.34 177.97 L540.52 177.97 L540.69 177.97 L540.86 177.97 L541.03 177.96 L541.21 177.96 L541.38 177.96 L541.55 177.96 L541.72 177.96 L541.9 177.96 L542.07 177.96 L542.24 177.96 L542.42 177.96 L542.59 177.96 L542.76 177.96 L542.93 177.96 L543.11 177.96 L543.28 177.96 L543.45 177.96 L543.62 177.95 L543.8 177.95 L543.97 177.95 L544.14 177.95 L544.31 177.95 L544.49 177.95 L544.66 177.95 L544.83 177.95 L545.01 177.95 L545.18 177.95 L545.35 177.95 L545.52 177.95 L545.7 177.95 L545.87 177.95 L546.04 177.95 L546.21 177.95 L546.39 177.95 L546.56 177.95 L546.73 177.95 L546.9 177.95 L547.08 177.95 L547.25 177.95 L547.42 177.95 L547.6 177.95 L547.77 177.95 L547.94 177.95 L548.11 177.95 L548.29 177.95 L548.46 177.95 L548.63 177.95 L548.8 177.95 L548.98 177.95 L549.15 177.95 L549.32 177.95 L549.49 177.95 L549.67 177.95 L549.84 177.95 L550.01 177.95 L550.19 177.95 L550.36 177.95 L550.53 177.95 L550.7 177.95 L550.88 177.95 L551.05 177.95 L551.22 177.95 L551.39 177.95 L551.57 177.95 L551.74 177.95 L551.91 177.95 L552.08 177.95 L552.26 177.95 L552.43 177.95 L552.6 177.95 L552.78 177.95 L552.95 177.95 L553.12 177.95 L553.29 177.95 L553.47 177.95 L553.64 177.95 L553.81 177.95 L553.98 177.95 L554.16 177.95 L554.33 177.95 L554.5 177.95 L554.67 177.95 L554.85 177.95 L555.02 177.95 L555.19 177.95 L555.37 177.95" fill="none" stroke="#5ab4f0" stroke-width="1" stroke-linejoin="round" />
<path d="M151.78 177.95 L182.82 44.07 L244.91 44.07 L275.96 177.95 L288.38 177.95" fill="none" stroke="#4343f2" stroke-width="1.15" stroke-dasharray="3.5 2.5" stroke-linejoin="round" />
<path d="M400.14 177.95 L431.19 311.83 L493.27 311.83 L524.32 177.95 L536.74 177.95" fill="none" stroke="#4343f2" stroke-width="1.15" stroke-dasharray="3.5 2.5" stroke-linejoin="round" />
<path d="M151.78 177.95 L182.82 44.07 L244.91 44.07 L275.96 177.95 L288.38 177.95" fill="none" stroke="#8fbf4a" stroke-width="0.7" stroke-dasharray="2 2 0.8 2" stroke-linejoin="round" stroke-opacity="0.4"/>
<path d="M400.14 177.95 L431.19 311.83 L493.27 311.83 L524.32 177.95 L536.74 177.95" fill="none" stroke="#8fbf4a" stroke-width="0.7" stroke-dasharray="2 2 0.8 2" stroke-linejoin="round" stroke-opacity="0.4"/>
<path d="M151.78 27.34 L275.96 27.34" fill="none" stroke="#ab6dc0" stroke-width="1.2" stroke-dasharray="3.2 3.3" stroke-linejoin="round" /><path d="M400.14 328.57 L524.32 328.57" fill="none" stroke="#ab6dc0" stroke-width="1.2" stroke-dasharray="3.2 3.3" stroke-linejoin="round" />
<path d="M151.78 38.63 L275.96 38.63" fill="none" stroke="#ab6dc0" stroke-opacity="0.45" stroke-width="1.1" stroke-linejoin="round" /><path d="M400.14 317.27 L524.32 317.27" fill="none" stroke="#ab6dc0" stroke-opacity="0.45" stroke-width="1.1" stroke-linejoin="round" />
<path d="M151.78 38.63 L275.96 38.63" fill="none" stroke="#ab6dc0" stroke-opacity="0.65" stroke-width="1.0" stroke-dasharray="1.4 1.45" stroke-linejoin="round" /><path d="M400.14 317.27 L524.32 317.27" fill="none" stroke="#ab6dc0" stroke-opacity="0.65" stroke-width="1.0" stroke-dasharray="1.4 1.45" stroke-linejoin="round" />
<path d="M27.6 177.95 L151.78 177.95 L151.78 21.06 L275.96 21.06 L275.96 177.95 L400.14 177.95 L400.14 334.84 L524.32 334.84 L524.32 177.95 L648.5 177.95" fill="none" stroke="#ab6dc0" stroke-width="1.35" stroke-linejoin="round" />
<path d="M27.6 10.6 H648.5 V345.3 H27.6 Z" fill="none" stroke="#404040" stroke-width="1.1"/>
<g font-family="Liberation Serif" font-size="6.1" fill="#222"><text x="27.6" y="353.4" text-anchor="middle">0</text><text x="89.69" y="353.4" text-anchor="middle">0.1</text><text x="151.78" y="353.4" text-anchor="middle">0.2</text><text x="213.87" y="353.4" text-anchor="middle">0.3</text><text x="275.96" y="353.4" text-anchor="middle">0.4</text><text x="338.05" y="353.4" text-anchor="middle">0.5</text><text x="400.14" y="353.4" text-anchor="middle">0.6</text><text x="462.23" y="353.4" text-anchor="middle">0.7</text><text x="524.32" y="353.4" text-anchor="middle">0.8</text><text x="586.41" y="353.4" text-anchor="middle">0.9</text><text x="648.5" y="353.4" text-anchor="middle">1</text><text x="25.8" y="347.4" text-anchor="end">-1500</text><text x="25.8" y="291.62" text-anchor="end">-1000</text><text x="25.8" y="235.83" text-anchor="end">-500</text><text x="25.8" y="180.05" text-anchor="end">0</text><text x="25.8" y="124.27" text-anchor="end">500</text><text x="25.8" y="68.48" text-anchor="end">1000</text><text x="25.8" y="12.7" text-anchor="end">1500</text><text x="650.5" y="347.3">-4</text><text x="650.5" y="305.46">-3</text><text x="650.5" y="263.62">-2</text><text x="650.5" y="221.79">-1</text><text x="650.5" y="179.95">0</text><text x="650.5" y="138.11">1</text><text x="650.5" y="96.28">2</text><text x="650.5" y="54.44">3</text><text x="650.5" y="12.6">4</text></g>
<g font-family="Liberation Serif" font-size="5.8" fill="#222"><text x="649.3" y="8.5">×</text><text x="653.6" y="7.8">10</text><text x="660.2" y="5.2" font-size="4.5">4</text></g>
<g class="b" font-family="Liberation Serif" font-size="9.6" fill="#1a1a1a"><text x="338" y="7.8" text-anchor="middle">Position response curve</text><text x="338" y="363.6" text-anchor="middle">Simulation time(sec)</text><text transform="translate(8.2 177.65) rotate(-90)" text-anchor="middle">Position pulse(rpm)</text><text transform="translate(666 177.55) rotate(-90)" text-anchor="middle">Position deviation(bit)</text></g>
<g class="b"><path d="M37.6 187.4 H50" stroke="#f25757" stroke-width="1.1"/><text x="51.4" y="190.8" font-family="Liberation Serif" font-size="9.6" fill="#1a1a1a">Ref</text><path d="M37.6 198.4 H50" stroke="#ab6dc0" stroke-width="1.1"/><text x="51.4" y="201.8" font-family="Liberation Serif" font-size="9.6" fill="#1a1a1a">Position Deviation(PI)</text><path d="M37.6 209.4 H50" stroke="#ab6dc0" stroke-width="1.1" stroke-dasharray="3 3.5"/><text x="51.4" y="212.8" font-family="Liberation Serif" font-size="9.6" fill="#1a1a1a">Position Deviation(GA-fuzzy)</text><path d="M37.6 220.4 H50" stroke="#ab6dc0" stroke-width="0.9" stroke-dasharray="1 1"/><text x="51.4" y="223.8" font-family="Liberation Serif" font-size="9.6" fill="#1a1a1a">Position Deviation(PSO-fuzzy)</text><path d="M37.6 231.4 H50" stroke="#5ab4f0" stroke-width="1" stroke-dasharray="1 0.8"/><text x="51.4" y="234.8" font-family="Liberation Serif" font-size="9.6" fill="#1a1a1a">PI</text><path d="M37.6 242.4 H50" stroke="#4343f2" stroke-width="1.3" stroke-dasharray="3 3"/><text x="51.4" y="245.8" font-family="Liberation Serif" font-size="9.6" fill="#1a1a1a">PSO-fuzzy</text><path d="M37.6 253.4 H50" stroke="#8fbf4a" stroke-width="1.3" stroke-dasharray="3 3"/><text x="51.4" y="256.8" font-family="Liberation Serif" font-size="9.6" fill="#1a1a1a">GA-fuzzy</text></g>
<ellipse cx="185" cy="46.7" rx="10.1" ry="5.5" fill="none" stroke="#8c8c8c" stroke-width="0.7"/>
<ellipse cx="210.4" cy="45.2" rx="10.3" ry="5.5" fill="none" stroke="#8c8c8c" stroke-width="0.7"/>
<ellipse cx="279.4" cy="175.3" rx="10.3" ry="5.4" fill="none" stroke="#8c8c8c" stroke-width="0.7"/>
<ellipse cx="529.4" cy="179.8" rx="10.3" ry="5.2" fill="none" stroke="#8c8c8c" stroke-width="0.7"/>
<ellipse cx="493.4" cy="310.5" rx="10.6" ry="5.3" fill="none" stroke="#8c8c8c" stroke-width="0.7"/>
<path d="M91.6 64.9 L169.05 52.47" stroke="#111" stroke-width="1"/><path d="M172.6 51.9 L168.35 54.46 L167.76 50.8 Z" fill="#111"/>
<path d="M330 72.5 L227.92 50.75" stroke="#111" stroke-width="1"/><path d="M224.4 50 L229.28 49.15 L228.51 52.77 Z" fill="#111"/>
<path d="M278.3 228.7 L277.75 190.8" stroke="#111" stroke-width="1"/><path d="M277.7 187.2 L279.62 191.77 L275.92 191.83 Z" fill="#111"/>
<path d="M527.5 139.6 L527.23 167.6" stroke="#111" stroke-width="1"/><path d="M527.2 171.2 L525.39 166.58 L529.09 166.62 Z" fill="#111"/>
<path d="M545.2 288 L512.43 304.02" stroke="#111" stroke-width="1"/><path d="M509.2 305.6 L512.52 301.92 L514.15 305.24 Z" fill="#111"/>
<rect x="55.5" y="75.5" width="68.1" height="57.19999999999999" fill="#fff"/>
<svg x="55.5" y="75.5" width="68.1" height="57.19999999999999" viewBox="55.5 75.5 68.1 57.19999999999999" overflow="hidden">
<path d="M-95.76 80.29 L559.05 80.29" fill="none" stroke="#ab6dc0" stroke-width="0.9" stroke-dasharray="1.6 1" stroke-linejoin="round" />
<path d="M1213.85 127.91 L1868.66 127.91" fill="none" stroke="#ab6dc0" stroke-width="0.9" stroke-dasharray="1.6 1" stroke-linejoin="round" />
<path d="M-95.76 78.36 L559.05 78.36" fill="none" stroke="#ab6dc0" stroke-width="1.5" stroke-dasharray="3.8 2.2" stroke-linejoin="round" />
<path d="M1213.85 129.84 L1868.66 129.84" fill="none" stroke="#ab6dc0" stroke-width="1.5" stroke-dasharray="3.8 2.2" stroke-linejoin="round" />
<path d="M-750.57 104.1 L-95.76 104.1 L-95.76 77.29 L559.05 77.29 L559.05 104.1 L1213.85 104.1 L1213.85 130.91 L1868.66 130.91 L1868.66 104.1 L2523.47 104.1" fill="none" stroke="#ab6dc0" stroke-width="1.3" stroke-linejoin="round" />
<path d="M70.6 134.5 L71.29 132.46 L71.98 130.56 L72.67 128.73 L73.35 126.88 L74.04 124.97 L74.73 123.1 L75.42 121.43 L76.11 119.95 L76.8 118.58 L77.49 117.29 L78.17 116.05 L78.86 114.83 L79.55 113.64 L80.24 112.5 L80.93 111.42 L81.62 110.41 L82.31 109.49 L82.99 108.62 L83.68 107.8 L84.37 107.02 L85.06 106.25 L85.75 105.5 L86.44 104.77 L87.13 104.05 L87.82 103.36 L88.5 102.7 L89.19 102.07 L89.88 101.48 L90.57 100.91 L91.26 100.36 L91.95 99.84 L92.64 99.33 L93.32 98.84 L94.01 98.35 L94.7 97.87 L95.39 97.4 L96.08 96.93 L96.77 96.46 L97.46 96 L98.14 95.55 L98.83 95.11 L99.52 94.7 L100.21 94.31 L100.9 93.95 L101.59 93.61 L102.28 93.29 L102.96 92.99 L103.65 92.7 L104.34 92.42 L105.03 92.15 L105.72 91.89 L106.41 91.63 L107.1 91.38 L107.78 91.14 L108.47 90.89 L109.16 90.65 L109.85 90.42 L110.54 90.19 L111.23 89.98 L111.92 89.78 L112.61 89.6 L113.29 89.44 L113.98 89.3 L114.67 89.17 L115.36 89.04 L116.05 88.91 L116.74 88.8 L117.43 88.68 L118.11 88.58 L118.8 88.48 L119.49 88.38 L120.18 88.29 L120.87 88.21 L121.56 88.13 L122.25 88.05 L122.93 87.98 L123.62 87.91 L124.31 87.85 L125 87.8" fill="none" stroke="#5ab4f0" stroke-width="0.9" stroke-linejoin="round" />
<path d="M-750.57 687.8 L-95.76 687.8 L67.94 87.8 L395.35 87.8 L559.05 687.8 L1213.85 687.8 L1377.56 1287.8 L1704.96 1287.8 L1868.66 687.8 L2523.47 687.8" fill="none" stroke="#f25757" stroke-width="1.2" stroke-linejoin="round" />
<path d="M-749.26 686.8 L-94.45 686.8 L69.25 86.8 L396.65 86.8 L560.36 686.8 L1215.16 686.8 L1378.87 1286.8 L1706.27 1286.8 L1869.97 686.8 L2524.78 686.8" fill="none" stroke="#8fbf4a" stroke-width="1.2" stroke-dasharray="2.5 1.5" stroke-linejoin="round" />
<path d="M-750.57 687.8 L-95.76 687.8 L67.94 87.8 L395.35 87.8 L559.05 687.8 L1213.85 687.8 L1377.56 1287.8 L1704.96 1287.8 L1868.66 687.8 L2523.47 687.8" fill="none" stroke="#4343f2" stroke-width="1.3" stroke-dasharray="2.5 2" stroke-linejoin="round" />
</svg>
<rect x="55.5" y="75.5" width="68.1" height="57.19999999999999" fill="none" stroke="#c4c4c4" stroke-width="0.8"/>
<path d="M67.94 132.7 v-1.5 M67.94 75.5 v1.5 M84.31 132.7 v-1.5 M84.31 75.5 v1.5 M100.68 132.7 v-1.5 M100.68 75.5 v1.5 M117.05 132.7 v-1.5 M117.05 75.5 v1.5 M55.5 127.8 h1.5 M55.5 117.8 h1.5 M55.5 107.8 h1.5 M55.5 97.8 h1.5 M55.5 87.8 h1.5 M55.5 77.8 h1.5 M123.6 132.7 h-1.5 M123.6 118.4 h-1.5 M123.6 104.1 h-1.5 M123.6 89.8 h-1.5 M123.6 75.5 h-1.5" stroke="#c4c4c4" stroke-width="0.6"/>
<g font-family="Liberation Serif" font-size="6.6" fill="#222"><text x="67.94" y="141" text-anchor="middle">0.25</text><text x="84.31" y="141" text-anchor="middle">0.255</text><text x="100.68" y="141" text-anchor="middle">0.26</text><text x="117.05" y="141" text-anchor="middle">0.265</text><text x="53.7" y="130" text-anchor="end">1120</text><text x="53.7" y="120" text-anchor="end">1140</text><text x="53.7" y="110" text-anchor="end">1160</text><text x="53.7" y="100" text-anchor="end">1180</text><text x="53.7" y="90" text-anchor="end">1200</text><text x="53.7" y="80" text-anchor="end">1220</text><text x="125.6" y="134.9">-4</text><text transform="translate(129 118.4) rotate(-90)" text-anchor="middle">-2</text><text x="125.6" y="106.3">0</text><text transform="translate(129 89.8) rotate(-90)" text-anchor="middle">2</text><text x="125.6" y="76.5">4</text></g>
<g font-family="Liberation Serif" font-size="6.3" fill="#222"><text x="89.6" y="73.9" text-anchor="middle">Position response curve</text><text x="90.15" y="149.6" text-anchor="middle">Simulation time(sec)</text><text transform="translate(39.3 104.1) rotate(-90)" text-anchor="middle">Position pulse(rpm)</text><text transform="translate(137.5 104.1) rotate(-90)" text-anchor="middle">Position deviation(bit)</text></g>
<g font-family="Liberation Serif" font-size="6.5" fill="#222"><text x="124" y="73.2" font-size="7.5">×</text><text x="128.1" y="72.6">10</text><text x="135" y="68.9" font-size="4.6">4</text></g>
<rect x="479.1" y="59.3" width="86.0" height="62.8" fill="#fff"/>
<svg x="479.1" y="59.3" width="86.0" height="62.8" viewBox="479.1 59.3 86.0 62.8" overflow="hidden">
<path d="M-999.8 64.56 L-502.69 64.56" fill="none" stroke="#ab6dc0" stroke-width="0.9" stroke-dasharray="1.6 1" stroke-linejoin="round" />
<path d="M-5.58 116.84 L491.53 116.84" fill="none" stroke="#ab6dc0" stroke-width="0.9" stroke-dasharray="1.6 1" stroke-linejoin="round" />
<path d="M-999.8 62.44 L-502.69 62.44" fill="none" stroke="#ab6dc0" stroke-width="1.5" stroke-dasharray="3.8 2.2" stroke-linejoin="round" />
<path d="M-5.58 118.96 L491.53 118.96" fill="none" stroke="#ab6dc0" stroke-width="1.5" stroke-dasharray="3.8 2.2" stroke-linejoin="round" />
<path d="M-1496.91 90.7 L-999.8 90.7 L-999.8 61.26 L-502.69 61.26 L-502.69 90.7 L-5.58 90.7 L-5.58 120.14 L491.53 120.14 L491.53 90.7 L988.64 90.7" fill="none" stroke="#ab6dc0" stroke-width="1.3" stroke-linejoin="round" />
<path d="M492.2 123 L493.15 118.76 L494.09 115.73 L495.04 112.58 L495.99 109.33 L496.93 106.42 L497.88 103.86 L498.83 101.53 L499.77 99.45 L500.72 97.56 L501.67 95.84 L502.62 94.41 L503.56 93.28 L504.51 92.32 L505.46 91.46 L506.4 90.6 L507.35 89.71 L508.3 88.83 L509.24 87.98 L510.19 87.18 L511.14 86.46 L512.08 85.81 L513.03 85.2 L513.98 84.64 L514.92 84.11 L515.87 83.62 L516.82 83.16 L517.76 82.74 L518.71 82.36 L519.66 82 L520.61 81.67 L521.55 81.35 L522.5 81.04 L523.45 80.73 L524.39 80.43 L525.34 80.12 L526.29 79.8 L527.23 79.48 L528.18 79.16 L529.13 78.86 L530.07 78.58 L531.02 78.33 L531.97 78.13 L532.91 77.95 L533.86 77.8 L534.81 77.66 L535.75 77.53 L536.7 77.41 L537.65 77.3 L538.59 77.2 L539.54 77.1 L540.49 76.99 L541.44 76.89 L542.38 76.79 L543.33 76.69 L544.28 76.59 L545.22 76.5 L546.17 76.42 L547.12 76.35 L548.06 76.28 L549.01 76.23 L549.96 76.19 L550.9 76.16 L551.85 76.13 L552.8 76.1 L553.74 76.07 L554.69 76.05 L555.64 76.02 L556.58 76 L557.53 75.98 L558.48 75.96 L559.43 75.94 L560.37 75.93 L561.32 75.92 L562.27 75.91 L563.21 75.9 L564.16 75.9 L565.11 75.9 L566.05 75.9 L567 75.9" fill="none" stroke="#5ab4f0" stroke-width="0.9" stroke-linejoin="round" />
<path d="M-1496.91 76.31 L-999.8 76.31 L-875.52 -415.59 L-626.97 -415.59 L-502.69 76.31 L-5.58 76.31 L118.7 568.22 L367.25 568.22 L491.53 76.31 L988.64 76.31" fill="none" stroke="#f25757" stroke-width="1.2" stroke-linejoin="round" />
<path d="M-1495.92 76.31 L-998.81 76.31 L-874.53 -415.59 L-625.98 -415.59 L-501.7 76.31 L-4.59 76.31 L119.69 568.22 L368.24 568.22 L492.52 76.31 L989.63 76.31" fill="none" stroke="#8fbf4a" stroke-width="1.2" stroke-dasharray="2.5 1.5" stroke-linejoin="round" />
<path d="M-1496.91 76.31 L-999.8 76.31 L-875.52 -415.59 L-626.97 -415.59 L-502.69 76.31 L-5.58 76.31 L118.7 568.22 L367.25 568.22 L491.53 76.31 L988.64 76.31" fill="none" stroke="#4343f2" stroke-width="1.3" stroke-dasharray="2.5 2" stroke-linejoin="round" />
</svg>
<rect x="479.1" y="59.3" width="86.0" height="62.8" fill="none" stroke="#c4c4c4" stroke-width="0.8"/>
<path d="M491.53 122.1 v-1.5 M491.53 59.3 v1.5 M516.38 122.1 v-1.5 M516.38 59.3 v1.5 M541.24 122.1 v-1.5 M541.24 59.3 v1.5 M479.1 117.3 h1.5 M479.1 96.81 h1.5 M479.1 76.31 h1.5 M565.1 122.1 h-1.5 M565.1 106.4 h-1.5 M565.1 90.7 h-1.5 M565.1 75 h-1.5 M565.1 59.3 h-1.5" stroke="#c4c4c4" stroke-width="0.6"/>
<g font-family="Liberation Serif" font-size="6.6" fill="#222"><text x="491.53" y="130.4" text-anchor="middle">0.8</text><text x="516.38" y="130.4" text-anchor="middle">0.81</text><text x="541.24" y="130.4" text-anchor="middle">0.82</text><text x="477.3" y="119.5" text-anchor="end">-100</text><text x="477.3" y="99.01" text-anchor="end">-50</text><text x="477.3" y="78.51" text-anchor="end">0</text><text x="567.1" y="124.3">-4</text><text x="567.1" y="108.6">-2</text><text x="567.1" y="92.9">0</text><text x="567.1" y="77.2">2</text><text x="567.1" y="60.3">4</text></g>
<g font-family="Liberation Serif" font-size="6.3" fill="#222"><text x="522.5" y="57.3" text-anchor="middle">Position response curve</text><text x="524" y="135.7" text-anchor="middle">Simulation time(sec)</text><text transform="translate(463.7 90.7) rotate(-90)" text-anchor="middle">Position pulse(rpm)</text><text transform="translate(578.4 90.7) rotate(-90)" text-anchor="middle">Position deviation(bit)</text></g>
<g font-family="Liberation Serif" font-size="6.5" fill="#222"><text x="565.5" y="57" font-size="7.5">×</text><text x="569.6" y="56.4">10</text><text x="576.5" y="52.7" font-size="4.6">4</text></g>
<rect x="233.4" y="239.6" width="90.6" height="66.9" fill="#fff"/>
<svg x="233.4" y="239.6" width="90.6" height="66.9" viewBox="233.4 239.6 90.6 66.9" overflow="hidden">
<path d="M-507.86 245.2 L248.72 245.2" fill="none" stroke="#ab6dc0" stroke-width="0.9" stroke-dasharray="1.6 1" stroke-linejoin="round" />
<path d="M1005.3 300.9 L1761.87 300.9" fill="none" stroke="#ab6dc0" stroke-width="0.9" stroke-dasharray="1.6 1" stroke-linejoin="round" />
<path d="M-507.86 242.94 L248.72 242.94" fill="none" stroke="#ab6dc0" stroke-width="1.5" stroke-dasharray="3.8 2.2" stroke-linejoin="round" />
<path d="M1005.3 303.15 L1761.87 303.15" fill="none" stroke="#ab6dc0" stroke-width="1.5" stroke-dasharray="3.8 2.2" stroke-linejoin="round" />
<path d="M-1264.43 273.05 L-507.86 273.05 L-507.86 241.69 L248.72 241.69 L248.72 273.05 L1005.3 273.05 L1005.3 304.41 L1761.87 304.41 L1761.87 273.05 L2518.45 273.05" fill="none" stroke="#ab6dc0" stroke-width="1.3" stroke-linejoin="round" />
<path d="M251.6 237.5 L252.54 240.18 L253.48 242.82 L254.43 245.41 L255.37 247.87 L256.31 250.15 L257.25 252.31 L258.19 254.41 L259.13 256.54 L260.08 258.74 L261.02 260.93 L261.96 263 L262.9 264.88 L263.84 266.66 L264.78 268.3 L265.73 269.76 L266.67 270.98 L267.61 272.03 L268.55 273.06 L269.49 274.12 L270.44 275.19 L271.38 276.22 L272.32 277.22 L273.26 278.15 L274.2 279.06 L275.14 279.94 L276.09 280.79 L277.03 281.62 L277.97 282.41 L278.91 283.16 L279.85 283.87 L280.79 284.54 L281.74 285.2 L282.68 285.85 L283.62 286.47 L284.56 287.06 L285.5 287.62 L286.45 288.15 L287.39 288.64 L288.33 289.08 L289.27 289.48 L290.21 289.86 L291.15 290.21 L292.1 290.55 L293.04 290.86 L293.98 291.16 L294.92 291.44 L295.86 291.71 L296.81 291.97 L297.75 292.22 L298.69 292.46 L299.63 292.68 L300.57 292.9 L301.51 293.11 L302.46 293.32 L303.4 293.51 L304.34 293.69 L305.28 293.87 L306.22 294.04 L307.16 294.2 L308.11 294.36 L309.05 294.52 L309.99 294.66 L310.93 294.81 L311.87 294.94 L312.82 295.07 L313.76 295.19 L314.7 295.3 L315.64 295.4 L316.58 295.5 L317.52 295.59 L318.47 295.68 L319.41 295.77 L320.35 295.85 L321.29 295.93 L322.23 296 L323.17 296.08 L324.12 296.16 L325.06 296.23 L326 296.3" fill="none" stroke="#5ab4f0" stroke-width="0.9" stroke-linejoin="round" />
<path d="M-1264.43 297.4 L-507.86 297.4 L-318.71 -413.61 L59.58 -413.61 L248.72 297.4 L1005.3 297.4 L1194.44 1008.41 L1572.73 1008.41 L1761.87 297.4 L2518.45 297.4" fill="none" stroke="#f25757" stroke-width="1.2" stroke-linejoin="round" />
<path d="M-1262.92 297.4 L-506.34 297.4 L-317.2 -413.61 L61.09 -413.61 L250.23 297.4 L1006.81 297.4 L1195.95 1008.41 L1574.24 1008.41 L1763.39 297.4 L2519.96 297.4" fill="none" stroke="#8fbf4a" stroke-width="1.2" stroke-dasharray="2.5 1.5" stroke-linejoin="round" />
<path d="M-1264.43 297.4 L-507.86 297.4 L-318.71 -413.61 L59.58 -413.61 L248.72 297.4 L1005.3 297.4 L1194.44 1008.41 L1572.73 1008.41 L1761.87 297.4 L2518.45 297.4" fill="none" stroke="#4343f2" stroke-width="1.3" stroke-dasharray="2.5 2" stroke-linejoin="round" />
</svg>
<rect x="233.4" y="239.6" width="90.6" height="66.9" fill="none" stroke="#c4c4c4" stroke-width="0.8"/>
<path d="M248.72 306.5 v-1.5 M248.72 239.6 v1.5 M267.64 306.5 v-1.5 M267.64 239.6 v1.5 M286.55 306.5 v-1.5 M286.55 239.6 v1.5 M305.46 306.5 v-1.5 M305.46 239.6 v1.5 M233.4 297.4 h1.5 M233.4 285.55 h1.5 M233.4 273.7 h1.5 M233.4 261.85 h1.5 M233.4 250 h1.5 M324 306.5 h-1.5 M324 289.77 h-1.5 M324 273.05 h-1.5 M324 256.32 h-1.5 M324 239.6 h-1.5" stroke="#c4c4c4" stroke-width="0.6"/>
<g font-family="Liberation Serif" font-size="6.6" fill="#222"><text x="248.72" y="314.8" text-anchor="middle">0.4</text><text x="267.64" y="314.8" text-anchor="middle">0.405</text><text x="286.55" y="314.8" text-anchor="middle">0.41</text><text x="305.46" y="314.8" text-anchor="middle">0.415</text><text x="231.6" y="299.6" text-anchor="end">0</text><text x="231.6" y="287.75" text-anchor="end">20</text><text x="231.6" y="275.9" text-anchor="end">40</text><text x="231.6" y="264.05" text-anchor="end">60</text><text x="231.6" y="252.2" text-anchor="end">80</text><text x="326" y="308.7">-4</text><text x="326" y="291.97">-2</text><text x="326" y="275.25">0</text><text x="326" y="258.52">2</text><text x="326" y="240.6">4</text></g>
<g font-family="Liberation Serif" font-size="6.3" fill="#222"><text x="278.7" y="236.1" text-anchor="middle">Position response curve</text><text x="279.3" y="323.3" text-anchor="middle">Simulation time(sec)</text><text transform="translate(222.3 273.05) rotate(-90)" text-anchor="middle">Position pulse(rpm)</text><text transform="translate(339.3 273.05) rotate(-90)" text-anchor="middle">Position deviation(bit)</text></g>
<g font-family="Liberation Serif" font-size="6.5" fill="#222"><text x="324.4" y="237.3" font-size="7.5">×</text><text x="328.5" y="236.7">10</text><text x="335.4" y="233" font-size="4.6">4</text></g>
<rect x="549.6" y="222.4" width="81.5" height="66.49999999999997" fill="#fff"/>
<svg x="549.6" y="222.4" width="81.5" height="66.49999999999997" viewBox="549.6 222.4 81.5 66.49999999999997" overflow="hidden">
<path d="M-600.7 227.97 L-168.34 227.97" fill="none" stroke="#ab6dc0" stroke-width="0.9" stroke-dasharray="1.6 1" stroke-linejoin="round" />
<path d="M264.03 283.33 L696.39 283.33" fill="none" stroke="#ab6dc0" stroke-width="0.9" stroke-dasharray="1.6 1" stroke-linejoin="round" />
<path d="M-600.7 225.73 L-168.34 225.73" fill="none" stroke="#ab6dc0" stroke-width="1.5" stroke-dasharray="3.8 2.2" stroke-linejoin="round" />
<path d="M264.03 285.57 L696.39 285.57" fill="none" stroke="#ab6dc0" stroke-width="1.5" stroke-dasharray="3.8 2.2" stroke-linejoin="round" />
<path d="M-1033.06 255.65 L-600.7 255.65 L-600.7 224.48 L-168.34 224.48 L-168.34 255.65 L264.03 255.65 L264.03 286.82 L696.39 286.82 L696.39 255.65 L1128.75 255.65" fill="none" stroke="#ab6dc0" stroke-width="1.3" stroke-linejoin="round" />
<path d="M545 278.8 L545.86 278.8 L546.72 278.8 L547.57 278.8 L548.43 278.8 L549.29 278.8 L550.15 278.8 L551.01 278.8 L551.87 278.8 L552.72 278.8 L553.58 278.8 L554.44 278.8 L555.3 278.8 L556.16 278.8 L557.02 278.8 L557.87 278.8 L558.73 278.8 L559.59 278.8 L560.45 278.8 L561.31 278.8 L562.16 278.8 L563.02 278.8 L563.88 278.8 L564.74 278.8 L565.6 278.8 L566.46 278.8 L567.31 278.8 L568.17 278.8 L569.03 278.8 L569.89 278.8 L570.75 278.8 L571.61 278.8 L572.46 278.8 L573.32 278.8 L574.18 278.8 L575.04 278.8 L575.9 278.8 L576.75 278.8 L577.61 278.8 L578.47 278.8 L579.33 278.8 L580.19 278.8 L581.05 278.8 L581.9 278.8 L582.76 278.8 L583.62 278.8 L584.48 278.8 L585.34 278.8 L586.19 278.8 L587.05 278.8 L587.91 278.8 L588.77 278.68 L589.63 278.25 L590.49 277.64 L591.34 276.88 L592.2 275.72 L593.06 274.3 L593.92 272.8 L594.78 271.39 L595.64 269.97 L596.49 268.5 L597.35 266.94 L598.21 265.28 L599.07 263.52 L599.93 261.64 L600.78 259.63 L601.64 257.49 L602.5 255.13 L603.36 252.57 L604.22 249.89 L605.08 247.19 L605.93 244.49 L606.79 241.75 L607.65 238.94 L608.51 236.08 L609.37 233.2 L610.23 230.36 L611.08 227.38 L611.94 224.06 L612.8 220" fill="none" stroke="#5ab4f0" stroke-width="0.9" stroke-linejoin="round" />
<path d="M-1033.06 -145.22 L-600.7 -145.22 L-492.61 -569.24 L-276.43 -569.24 L-168.34 -145.22 L264.03 -145.22 L372.12 278.79 L588.3 278.79 L696.39 -145.22 L1128.75 -145.22" fill="none" stroke="#f25757" stroke-width="1.2" stroke-linejoin="round" />
<path d="M-1032.19 -145.22 L-599.83 -145.22 L-491.74 -569.24 L-275.56 -569.24 L-167.47 -145.22 L264.89 -145.22 L372.98 278.79 L589.16 278.79 L697.25 -145.22 L1129.61 -145.22" fill="none" stroke="#8fbf4a" stroke-width="1.2" stroke-dasharray="2.5 1.5" stroke-linejoin="round" />
<path d="M-1033.06 -145.22 L-600.7 -145.22 L-492.61 -569.24 L-276.43 -569.24 L-168.34 -145.22 L264.03 -145.22 L372.12 278.79 L588.3 278.79 L696.39 -145.22 L1128.75 -145.22" fill="none" stroke="#4343f2" stroke-width="1.3" stroke-dasharray="2.5 2" stroke-linejoin="round" />
</svg>
<rect x="549.6" y="222.4" width="81.5" height="66.49999999999997" fill="none" stroke="#c4c4c4" stroke-width="0.8"/>
<path d="M566.68 288.9 v-1.5 M566.68 222.4 v1.5 M588.3 288.9 v-1.5 M588.3 222.4 v1.5 M609.91 288.9 v-1.5 M609.91 222.4 v1.5 M549.6 278.79 h1.5 M549.6 261.13 h1.5 M549.6 243.46 h1.5 M549.6 225.79 h1.5 M631.1 288.9 h-1.5 M631.1 272.27 h-1.5 M631.1 255.65 h-1.5 M631.1 239.03 h-1.5 M631.1 222.4 h-1.5" stroke="#c4c4c4" stroke-width="0.6"/>
<g font-family="Liberation Serif" font-size="6.6" fill="#222"><text x="566.68" y="297.2" text-anchor="middle">0.74</text><text x="588.3" y="297.2" text-anchor="middle">0.75</text><text x="609.91" y="297.2" text-anchor="middle">0.76</text><text x="547.8" y="280.99" text-anchor="end">-1200</text><text x="547.8" y="263.33" text-anchor="end">-1150</text><text x="547.8" y="245.66" text-anchor="end">-1100</text><text x="547.8" y="227.99" text-anchor="end">-1050</text><text x="633.1" y="291.1">-4</text><text x="633.1" y="274.47">-2</text><text x="633.1" y="257.85">0</text><text x="633.1" y="241.22">2</text><text x="633.1" y="223.4">4</text></g>
<g font-family="Liberation Serif" font-size="6.3" fill="#222"><text x="590.3" y="220.9" text-anchor="middle">Position response curve</text><text x="590.95" y="305" text-anchor="middle">Simulation time(sec)</text><text transform="translate(530.8 255.65) rotate(-90)" text-anchor="middle">Position pulse(rpm)</text><text transform="translate(645.3 255.65) rotate(-90)" text-anchor="middle">Position deviation(bit)</text></g>
<g font-family="Liberation Serif" font-size="6.5" fill="#222"><text x="631.5" y="220.1" font-size="7.5">×</text><text x="635.6" y="219.5">10</text><text x="642.5" y="215.8" font-size="4.6">4</text></g>
<rect x="324.5" y="77.7" width="86.10000000000002" height="70.89999999999999" fill="#fff"/>
<svg x="324.5" y="77.7" width="86.10000000000002" height="70.89999999999999" viewBox="324.5 77.7 86.10000000000002 70.89999999999999" overflow="hidden">
<path d="M204.92 83.64 L444.08 83.64" fill="none" stroke="#ab6dc0" stroke-width="0.9" stroke-dasharray="1.6 1" stroke-linejoin="round" />
<path d="M204.92 81.25 L444.08 81.25" fill="none" stroke="#ab6dc0" stroke-width="1.5" stroke-dasharray="3.8 2.2" stroke-linejoin="round" />
<path d="M204.92 79.92 L444.08 79.92" fill="none" stroke="#ab6dc0" stroke-width="1.3" stroke-linejoin="round" />
<path d="M204.92 87.89 L444.08 87.89" fill="none" stroke="#f25757" stroke-width="1.2" stroke-linejoin="round" />
<path d="M325 128 L325.4 140.3 L327.2 144.4 L327.2 144.4 L328.64 143.77 L330.08 143.14 L331.52 142.53 L332.96 141.92 L334.4 141.31 L335.84 140.72 L337.28 140.13 L338.73 139.54 L340.17 138.97 L341.61 138.4 L343.05 137.83 L344.49 137.27 L345.93 136.72 L347.37 136.18 L348.81 135.64 L350.25 135.11 L351.69 134.58 L353.13 134.06 L354.57 133.54 L356.01 133.03 L357.45 132.53 L358.89 132.03 L360.34 131.54 L361.78 131.05 L363.22 130.57 L364.66 130.09 L366.1 129.62 L367.54 129.15 L368.98 128.69 L370.42 128.24 L371.86 127.79 L373.3 127.34 L374.74 126.9 L376.18 126.47 L377.62 126.04 L379.06 125.61 L380.51 125.19 L381.95 124.77 L383.39 124.36 L384.83 123.95 L386.27 123.55 L387.71 123.15 L389.15 122.76 L390.59 122.37 L392.03 121.99 L393.47 121.61 L394.91 121.23 L396.35 120.86 L397.79 120.49 L399.23 120.13 L400.67 119.77 L402.12 119.41 L403.56 119.06 L405 118.71 L406.44 118.37 L407.88 118.03 L409.32 117.69 L410.76 117.36 L412.2 117.03" fill="none" stroke="#3d97d6" stroke-width="1.2" stroke-dasharray="2.6 2.2" stroke-linejoin="round" />
<path d="M325 88 L325.4 120 L325.8 136.2 L325.8 136.2 L327.24 135.11 L328.68 134.05 L330.12 133 L331.56 131.99 L333 130.99 L334.44 130.02 L335.88 129.07 L337.33 128.14 L338.77 127.23 L340.21 126.35 L341.65 125.48 L343.09 124.63 L344.53 123.8 L345.97 123 L347.41 122.2 L348.85 121.43 L350.29 120.67 L351.73 119.94 L353.17 119.21 L354.61 118.51 L356.05 117.82 L357.49 117.14 L358.94 116.49 L360.38 115.84 L361.82 115.21 L363.26 114.6 L364.7 114 L366.14 113.41 L367.58 112.83 L369.02 112.27 L370.46 111.72 L371.9 111.19 L373.34 110.66 L374.78 110.15 L376.22 109.65 L377.66 109.16 L379.11 108.68 L380.55 108.21 L381.99 107.76 L383.43 107.31 L384.87 106.87 L386.31 106.45 L387.75 106.03 L389.19 105.62 L390.63 105.22 L392.07 104.83 L393.51 104.45 L394.95 104.08 L396.39 103.72 L397.83 103.36 L399.27 103.02 L400.72 102.68 L402.16 102.34 L403.6 102.02 L405.04 101.7 L406.48 101.39 L407.92 101.09 L409.36 100.79 L410.8 100.51" fill="none" stroke="#86b443" stroke-width="1.1" stroke-dasharray="1.5 0.7" stroke-linejoin="round" />
<path d="M325 88 L325.4 110 L325.8 128.6 L325.8 128.6 L327.24 126.49 L328.68 124.49 L330.12 122.59 L331.56 120.8 L333 119.09 L334.44 117.48 L335.88 115.95 L337.33 114.49 L338.77 113.12 L340.21 111.81 L341.65 110.57 L343.09 109.4 L344.53 108.29 L345.97 107.24 L347.41 106.24 L348.85 105.29 L350.29 104.39 L351.73 103.54 L353.17 102.73 L354.61 101.97 L356.05 101.24 L357.49 100.55 L358.94 99.9 L360.38 99.28 L361.82 98.7 L363.26 98.14 L364.7 97.61 L366.14 97.11 L367.58 96.64 L369.02 96.19 L370.46 95.77 L371.9 95.36 L373.34 94.98 L374.78 94.62 L376.22 94.27 L377.66 93.95 L379.11 93.64 L380.55 93.34 L381.99 93.07 L383.43 92.8 L384.87 92.55 L386.31 92.32 L387.75 92.09 L389.19 91.88 L390.63 91.68 L392.07 91.49 L393.51 91.31 L394.95 91.13 L396.39 90.97 L397.83 90.82 L399.27 90.67 L400.72 90.53 L402.16 90.4 L403.6 90.28 L405.04 90.16 L406.48 90.05 L407.92 89.94 L409.36 89.84 L410.8 89.74" fill="none" stroke="#4343f2" stroke-width="1.3" stroke-dasharray="2.7 2" stroke-linejoin="round" />
</svg>
<rect x="324.5" y="77.7" width="86.10000000000002" height="70.89999999999999" fill="none" stroke="#c4c4c4" stroke-width="0.8"/>
<path d="M324.5 148.6 v-1.5 M324.5 77.7 v1.5 M348.42 148.6 v-1.5 M348.42 77.7 v1.5 M372.33 148.6 v-1.5 M372.33 77.7 v1.5 M396.25 148.6 v-1.5 M396.25 77.7 v1.5 M324.5 132.2 h1.5 M324.5 110.05 h1.5 M324.5 87.89 h1.5 M410.6 148.6 h-1.5 M410.6 130.88 h-1.5 M410.6 113.15 h-1.5 M410.6 95.42 h-1.5 M410.6 77.7 h-1.5" stroke="#c4c4c4" stroke-width="0.6"/>
<g font-family="Liberation Serif" font-size="6.6" fill="#222"><text x="324.5" y="156.9" text-anchor="middle">0.28</text><text x="348.42" y="156.9" text-anchor="middle">0.282</text><text x="372.33" y="156.9" text-anchor="middle">0.284</text><text x="396.25" y="156.9" text-anchor="middle">0.286</text><text x="322.7" y="134.4" text-anchor="end">1199</text><text x="322.7" y="112.25" text-anchor="end">1199.5</text><text x="322.7" y="90.09" text-anchor="end">1200</text><text x="412.6" y="150.8">-4</text><text transform="translate(416 130.88) rotate(-90)" text-anchor="middle">-2</text><text x="412.6" y="115.35">0</text><text transform="translate(416 95.42) rotate(-90)" text-anchor="middle">2</text><text x="412.6" y="78.7">4</text></g>
<g font-family="Liberation Serif" font-size="6.3" fill="#222"><text x="362.3" y="70.6" text-anchor="middle">Position response curve</text><text x="368.15" y="164.7" text-anchor="middle">Simulation time(sec)</text><text transform="translate(302.3 113.15) rotate(-90)" text-anchor="middle">Position pulse(rpm)</text><text transform="translate(425.8 113.15) rotate(-90)" text-anchor="middle">Position deviation(bit)</text></g>
<g font-family="Liberation Serif" font-size="6.5" fill="#222"><text x="411" y="75.4" font-size="7.5">×</text><text x="415.1" y="74.8">10</text><text x="422" y="71.1" font-size="4.6">4</text></g>
</svg></body></html>
